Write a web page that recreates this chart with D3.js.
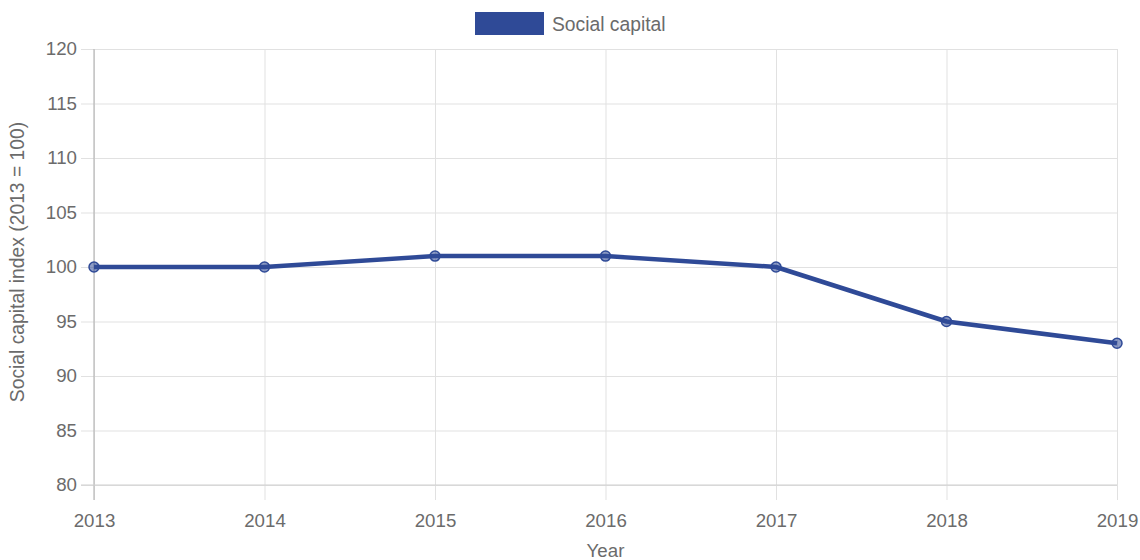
<!DOCTYPE html>
<html>
<head>
<meta charset="utf-8">
<script src="https://cdn.jsdelivr.net/npm/d3@7"></script>
<style>
  html, body { margin: 0; padding: 0; background: #fff; }
  svg { display: block; font-family: "Liberation Sans", Arial, Helvetica, sans-serif; }
</style>
</head>
<body>
<svg id="chart" width="1140" height="560"></svg>
<script>
// Social capital index by year (2013 = 100)
const years = ["2013", "2014", "2015", "2016", "2017", "2018", "2019"];
const socialCapital = [100, 100, 101, 101, 100, 95, 93];
const yTicks = [80, 85, 90, 95, 100, 105, 110, 115, 120];
const seriesName = "Social capital";
const xTitle = "Year";
const yTitle = "Social capital index (2013 = 100)";

const svg = d3.select("#chart");
const W = 1140, H = 560;
const m = { left: 94, right: 23, top: 49, bottom: 75 };
const lineColor = "#2f4a97";
const textColor = "#6b6b6b";
const gridColor = "#e1e1e1";
const fs = 18.7;

const x = d3.scalePoint().domain(years).range([m.left, W - m.right]);
const y = d3.scaleLinear().domain([80, 120]).range([H - m.bottom, m.top]);

// horizontal grid + tick labels
const yAxis = d3.axisLeft(y).tickValues(yTicks).tickSize(0).tickPadding(0).tickSizeOuter(0);
const gy = svg.append("g").attr("transform", `translate(${m.left - 13},0)`).call(yAxis);
gy.select(".domain").remove();
gy.selectAll(".tick line").attr("stroke", gridColor).attr("x1", 0).attr("x2", W - m.right - m.left + 13);
gy.selectAll(".tick text").attr("fill", textColor).attr("font-size", fs).attr("x", -4);

// vertical grid + year labels
const xAxis = d3.axisBottom(x).tickSize(-(H - m.top - m.bottom) - 15).tickPadding(4).tickSizeOuter(0);
const gx = svg.append("g").attr("transform", `translate(0,${H - m.bottom + 15})`).call(xAxis);
gx.select(".domain").remove();
gx.selectAll(".tick line").attr("stroke", gridColor);
gx.selectAll(".tick text").attr("fill", textColor).attr("font-size", fs).attr("dy", null).attr("y", 26.5);

// axis border lines
svg.append("line").attr("x1", m.left).attr("x2", m.left).attr("y1", m.top).attr("y2", H - m.bottom + 15)
  .attr("stroke", "#b8b8b8").attr("stroke-width", 1.2);
svg.append("line").attr("x1", m.left - 13).attr("x2", W - m.right).attr("y1", H - m.bottom).attr("y2", H - m.bottom)
  .attr("stroke", "#cfcfcf").attr("stroke-width", 1.2);

// series line
const line = d3.line().x((d, i) => x(years[i])).y(d => y(d));
svg.append("path").datum(socialCapital).attr("d", line)
  .attr("fill", "none").attr("stroke", lineColor).attr("stroke-width", 4.5).attr("stroke-linejoin", "round");

// points
svg.append("g").selectAll("circle").data(socialCapital).join("circle")
  .attr("cx", (d, i) => x(years[i])).attr("cy", d => y(d)).attr("r", 5)
  .attr("fill", "rgba(47,74,151,0.55)").attr("stroke", lineColor).attr("stroke-width", 1.5);

// legend
const lg = svg.append("g");
lg.append("rect").attr("x", 475).attr("y", 12).attr("width", 69).attr("height", 23).attr("fill", lineColor);
lg.append("text").attr("x", 552).attr("y", 31).attr("fill", textColor).attr("font-size", 19.3).text(seriesName);

// axis titles
svg.append("text").attr("x", (m.left + W - m.right) / 2).attr("y", 557).attr("text-anchor", "middle")
  .attr("fill", textColor).attr("font-size", fs).text(xTitle);
svg.append("text").attr("transform", `translate(24,262) rotate(-90)`)
  .attr("text-anchor", "middle").attr("fill", textColor).attr("font-size", 19.3).text(yTitle);
</script>
</body>
</html>
